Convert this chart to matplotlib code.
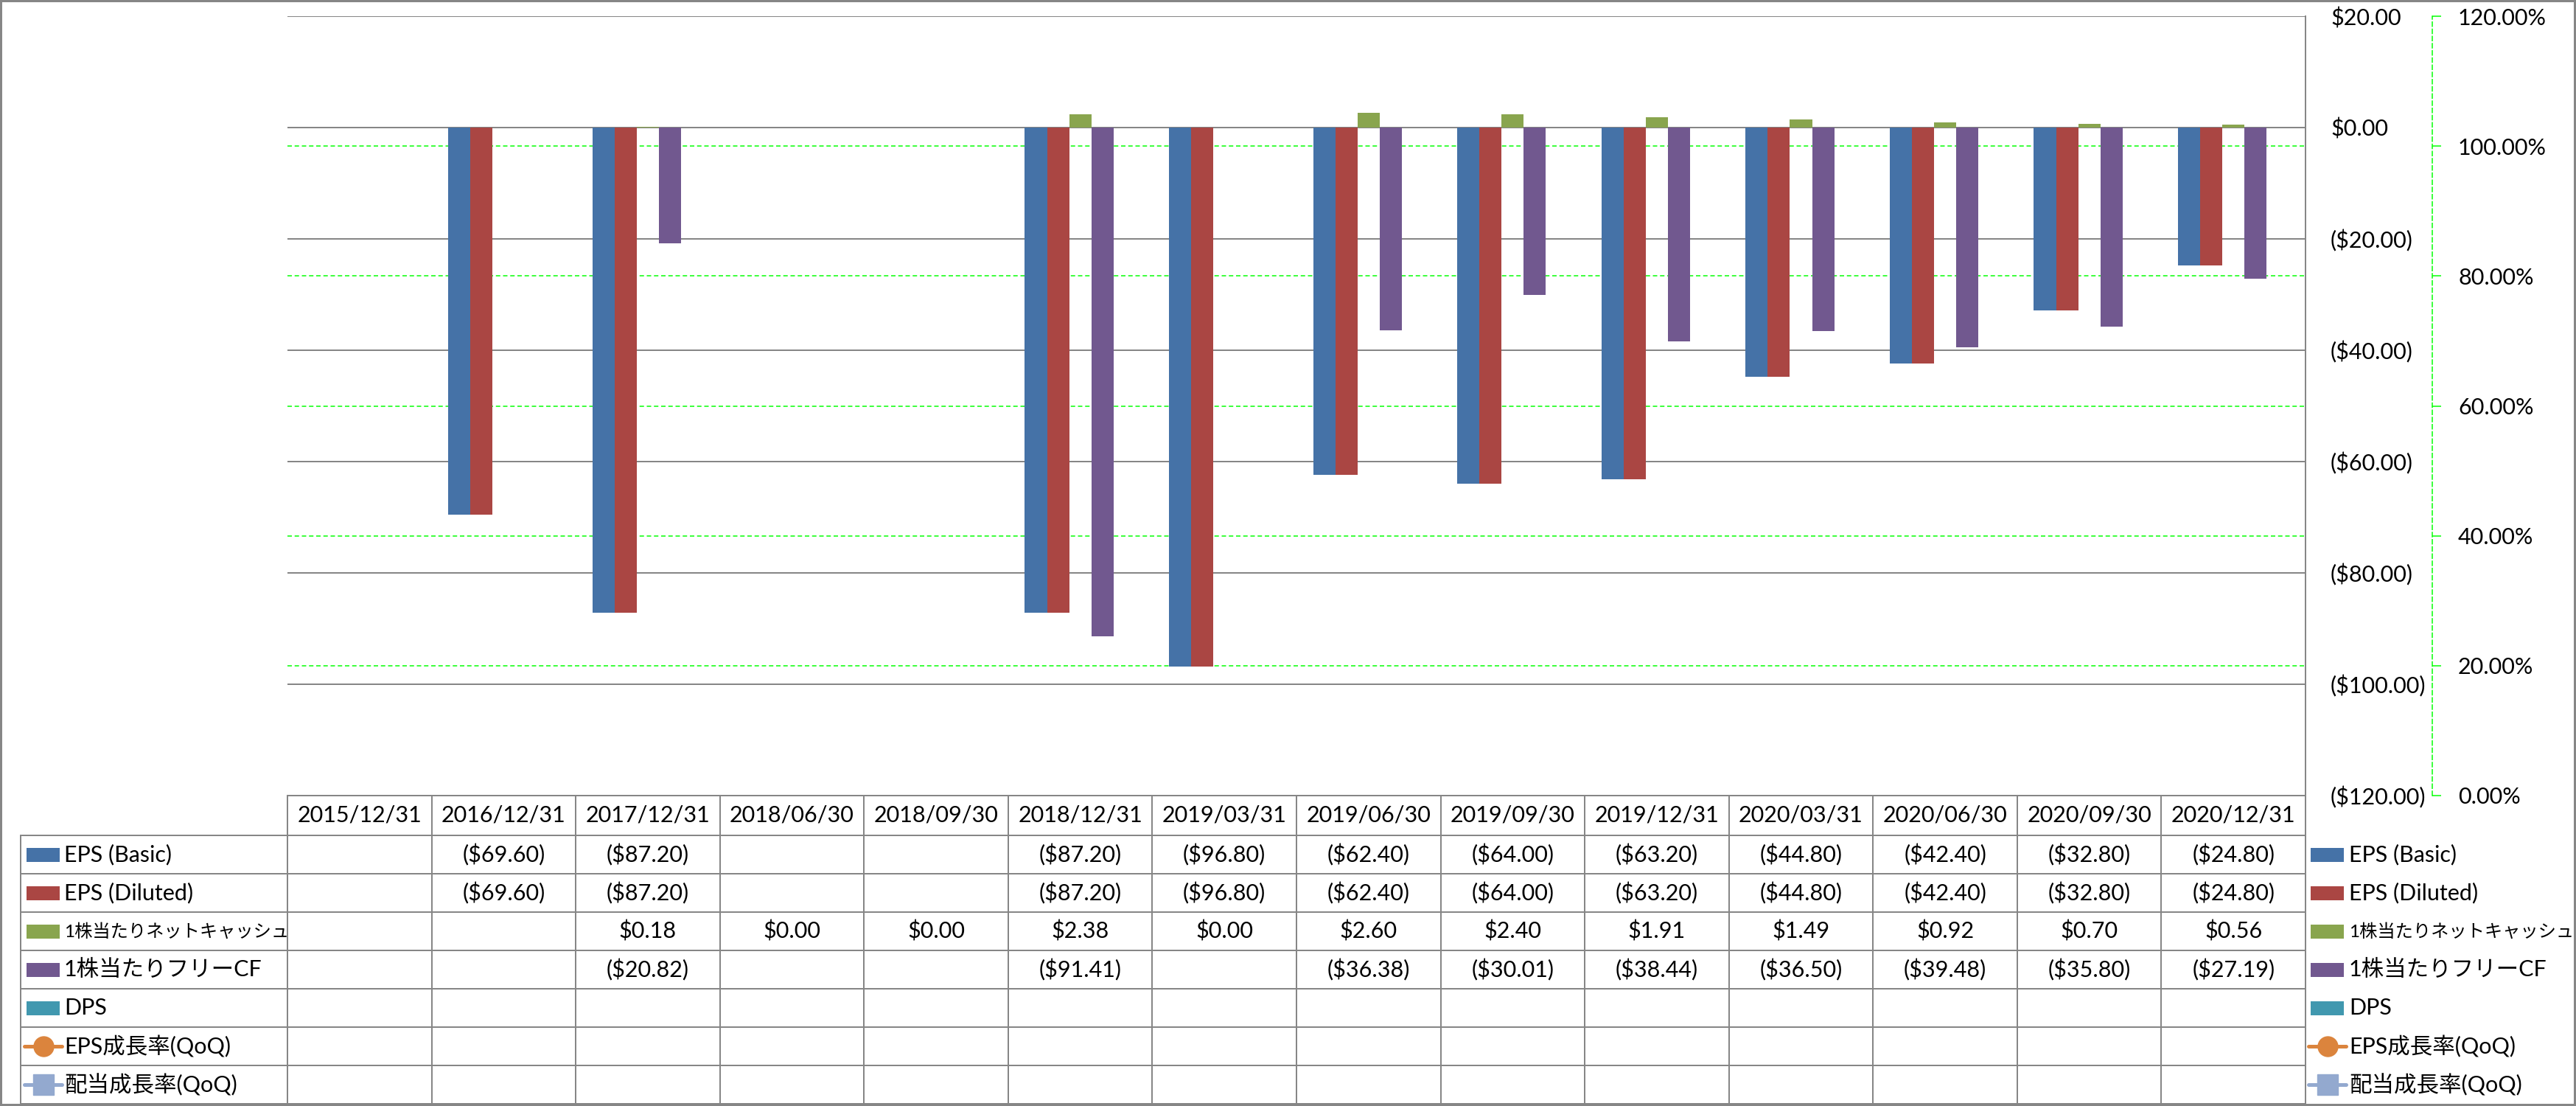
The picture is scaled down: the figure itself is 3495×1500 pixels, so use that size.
import numpy as np
import matplotlib
matplotlib.use("Agg")
import matplotlib.pyplot as plt
from matplotlib.lines import Line2D
from matplotlib.patches import Rectangle
from matplotlib.transforms import blended_transform_factory

plt.rcParams['font.family'] = ['Lato', 'Noto Sans CJK JP', 'DejaVu Sans']

nan = np.nan
categories = ["2015/12/31", "2016/12/31", "2017/12/31", "2018/06/30", "2018/09/30",
              "2018/12/31", "2019/03/31", "2019/06/30", "2019/09/30", "2019/12/31",
              "2020/03/31", "2020/06/30", "2020/09/30", "2020/12/31"]
eps_basic = [nan, -69.60, -87.20, nan, nan, -87.20, -96.80, -62.40, -64.00, -63.20, -44.80, -42.40, -32.80, -24.80]
eps_diluted = [nan, -69.60, -87.20, nan, nan, -87.20, -96.80, -62.40, -64.00, -63.20, -44.80, -42.40, -32.80, -24.80]
net_cash_ps = [nan, nan, 0.18, 0.00, 0.00, 2.38, 0.00, 2.60, 2.40, 1.91, 1.49, 0.92, 0.70, 0.56]
fcf_ps = [nan, nan, -20.82, nan, nan, -91.41, nan, -36.38, -30.01, -38.44, -36.50, -39.48, -35.80, -27.19]
dps = [nan] * 14
eps_growth = [nan] * 14
div_growth = [nan] * 14

bar_names = ["EPS (Basic)", "EPS (Diluted)", "1株当たりネットキャッシュ", "1株当たりフリーCF", "DPS"]
bar_colors = ["#4572A7", "#AA4643", "#89A54E", "#71588F", "#4198AF"]
line_names = ["EPS成長率(QoQ)", "配当成長率(QoQ)"]
line_colors = ["#DB843D", "#93A9CF"]
line_markers = ["o", "s"]
y_ticks = [20, 0, -20, -40, -60, -80, -100, -120]
y2_ticks = [0.0, 0.2, 0.4, 0.6, 0.8, 1.0, 1.2]

W, H = 3495, 1500
DPI = 100
PT = DPI / 72.0
fig = plt.figure(figsize=(W / DPI, H / DPI), dpi=DPI)
fig.patch.set_facecolor("white")

def fx(p):
    return p / W

def fy(p):
    return 1 - p / H

GRAY = "#868686"
GREEN = "#00FF00"
FS = 22

L, R, T, B = 390, 3128, 22, 1079
ax = fig.add_axes([fx(L), fy(B), (R - L) / W, (B - T) / H])
ax2 = ax.twinx()
ax2.set_zorder(ax.get_zorder() - 1)
ax.patch.set_visible(False)

n = len(categories)
x = np.arange(n)
w = 1 / 6.5
series = [eps_basic, eps_diluted, net_cash_ps, fcf_ps, dps]
for k, (vals, col) in enumerate(zip(series, bar_colors)):
    ax.bar(x + (k - 2) * w, np.array(vals, dtype=float), width=w, color=col, zorder=3)

for vals, col, mk in zip([eps_growth, div_growth], line_colors, line_markers):
    ax2.plot(x, np.array(vals, dtype=float), color=col, marker=mk)

ax.set_xlim(-0.5, n - 0.5)
ax.set_ylim(-120, 20)
ax.set_xticks([])
ax.set_yticks(y_ticks)

def money(v):
    if v < 0:
        return "(${:,.2f})".format(-v)
    return "${:,.2f}".format(v)

ax.set_yticklabels([money(v) for v in y_ticks])
for lab, v in zip(ax.get_yticklabels(), y_ticks):
    lab.set_color("red" if v < 0 else "black")
ax.yaxis.tick_right()
ax.tick_params(axis="y", length=0, pad=(3162 - R) / PT, labelsize=FS)
ax.yaxis.grid(True, color=GRAY, lw=2 / PT, zorder=0)
ax.set_axisbelow(True)
for s in ["top", "left", "bottom"]:
    ax.spines[s].set_visible(False)
ax.spines["right"].set_color(GRAY)
ax.spines["right"].set_linewidth(2 / PT)

ax2.set_ylim(0, 1.2)
ax2.set_yticks(y2_ticks)
ax2.set_yticklabels(["{:.2f}%".format(v * 100) for v in y2_ticks])
ax2.set_xticks([])
for s in ["top", "left", "bottom"]:
    ax2.spines[s].set_visible(False)
ax2.spines["right"].set_position(("outward", (3300 - R) / PT))
ax2.spines["right"].set_color(GREEN)
ax2.spines["right"].set_linestyle((0, (4, 2.5)))
ax2.spines["right"].set_linewidth(1.5 / PT)
ax2.tick_params(axis="y", direction="out", length=12 / PT, width=1.5 / PT, color=GREEN,
                pad=(3335 - 3312) / PT, labelsize=FS, labelcolor="black")
ax2.yaxis.grid(True, color=GREEN, lw=1.5 / PT, linestyle=(0, (4, 2.5)))
for gl, v in zip(ax2.get_ygridlines(), y2_ticks):
    if v in (0.0, 1.2):
        gl.set_visible(False)

# ---- data table ----
blend = blended_transform_factory(ax.transData, fig.transFigure)
head_top, head_bot = 1079, 1133
row_edges = [1133 + 52 * i for i in range(8)]
row_edges[-1] = 1497
left_col = 28

def hline(x0, x1, y, **kw):
    fig.add_artist(Line2D([fx(x0), fx(x1)], [fy(y), fy(y)], transform=fig.transFigure,
                          color=GRAY, lw=2 / PT, **kw))

def vline(xp, y0, y1):
    fig.add_artist(Line2D([fx(xp), fx(xp)], [fy(y0), fy(y1)], transform=fig.transFigure,
                          color=GRAY, lw=2 / PT))

hline(L, R, head_top)
for ye in row_edges:
    hline(left_col, R, ye)
vline(left_col, head_bot, row_edges[-1])
for i in range(n + 1):
    xp = L + (R - L) * i / n
    vline(xp, head_top, row_edges[-1])

for i, c in enumerate(categories):
    fig.text(i, fy((head_top + head_bot) / 2), c, transform=blend, ha="center",
             va="center", fontsize=FS)

table_series = [eps_basic, eps_diluted, net_cash_ps, fcf_ps, dps, eps_growth, div_growth]
for r, vals in enumerate(table_series):
    yc = fy((row_edges[r] + row_edges[r + 1]) / 2)
    for i, v in enumerate(vals):
        if v is None or np.isnan(v):
            continue
        fig.text(i, yc, money(v), transform=blend, ha="center", va="center", fontsize=FS)

# legend keys (left table column and right legend)
all_names = bar_names + line_names
for r, name in enumerate(all_names):
    ycp = (row_edges[r] + row_edges[r + 1]) / 2
    fs = 17.5 if "ネット" in name else FS
    for (px0, px1, tx) in [(36, 81, 87), (3135, 3180, 3187)]:
        if r < len(bar_names):
            fig.add_artist(Rectangle((fx(px0), fy(ycp + 9.5)), (px1 - px0) / W, 19 / H,
                                     transform=fig.transFigure, color=bar_colors[r], lw=0))
        else:
            j = r - len(bar_names)
            fig.add_artist(Line2D([fx(px0 - 3), fx(px1 + 3)], [fy(ycp), fy(ycp)],
                                  transform=fig.transFigure, color=line_colors[j],
                                  lw=5 / PT, solid_capstyle="round"))
            fig.add_artist(Line2D([fx((px0 + px1) / 2)], [fy(ycp)], transform=fig.transFigure,
                                  marker=line_markers[j], markersize=27 / PT,
                                  color=line_colors[j], lw=0))
        fig.text(fx(tx), fy(ycp), name, ha="left", va="center", fontsize=fs)

# outer frame
fig.add_artist(Rectangle((0, 0), 1, 1, transform=fig.transFigure, fill=False,
                         ec="#868686", lw=6 / PT))

fig.savefig("out.png", dpi=DPI)
